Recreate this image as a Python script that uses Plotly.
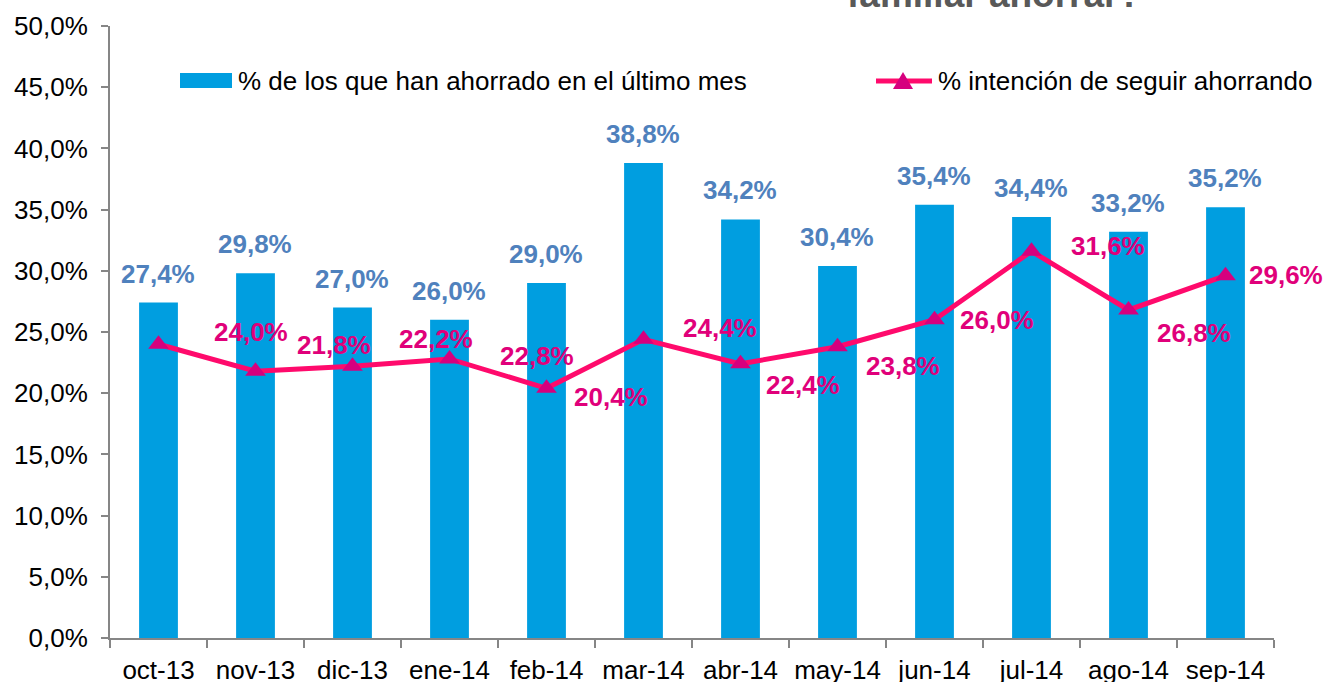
import plotly.graph_objects as go

categories = ["oct-13", "nov-13", "dic-13", "ene-14", "feb-14", "mar-14",
              "abr-14", "may-14", "jun-14", "jul-14", "ago-14", "sep-14"]
ahorrado = [27.4, 29.8, 27.0, 26.0, 29.0, 38.8, 34.2, 30.4, 35.4, 34.4, 33.2, 35.2]
intencion = [24.0, 21.8, 22.2, 22.8, 20.4, 24.4, 22.4, 23.8, 26.0, 31.6, 26.8, 29.6]
y_ticks = [0, 5, 10, 15, 20, 25, 30, 35, 40, 45, 50]

name_bar = "% de los que han ahorrado en el último mes"
name_line = "% intención de seguir ahorrando"
title_text = "familiar ahorrar?"

# label offsets in pixels for the line labels (dx, dy)
line_dx = [92, 78, 83, 87, 64, 76, 62, 65, 62, 76, 65, 60]
line_dy = [12, 26, 27, 3, -9, 11, -21, -19, 0, 5, -23, 1]

BAR_BLUE = "#009EE0"
LABEL_BLUE = "#4F81BD"
LINE_PINK = "#FF0A6C"
MARK_PINK = "#D6007E"
TXT_PINK = "#E0007A"
AXIS_GRAY = "#868686"
FONT = "Liberation Sans, Arial, Helvetica, sans-serif"
FS = 26

W, H = 1327, 682
L, R, T, B = 110, 53, 26, 44
PW, PH = W - L - R, H - T - B

def px(x):
    return (x - L) / PW

def py(y):
    return (H - B - y) / PH

def fmt(v):
    return f"{v:.1f}".replace(".", ",") + "%"

fig = go.Figure()
fig.add_trace(go.Bar(
    x=categories, y=ahorrado, name=name_bar,
    marker=dict(color=BAR_BLUE, line=dict(width=0)),
    width=0.4, showlegend=False,
))
fig.add_trace(go.Scatter(
    x=categories, y=intencion, name=name_line, mode="lines+markers",
    line=dict(color=LINE_PINK, width=5),
    marker=dict(symbol="triangle-up", size=18, color=MARK_PINK),
    showlegend=False,
))

annotations = []
for c, v in zip(categories, ahorrado):
    annotations.append(dict(
        x=c, y=v, xref="x", yref="y", text=fmt(v), showarrow=False,
        yanchor="middle", xanchor="center", yshift=29, xshift=-1,
        font=dict(family=FONT, size=FS, color=LABEL_BLUE, weight="bold"),
    ))
for c, v, dx, dy in zip(categories, intencion, line_dx, line_dy):
    annotations.append(dict(
        x=c, y=v, xref="x", yref="y", text=fmt(v), showarrow=False,
        yanchor="middle", xanchor="center", xshift=dx, yshift=dy,
        font=dict(family=FONT, size=FS, color=TXT_PINK, weight="bold"),
    ))
# title (cut at top edge as in the original)
annotations.append(dict(
    x=px(994), y=py(17), xref="paper", yref="paper", text=title_text,
    showarrow=False, xanchor="center", yanchor="bottom",
    font=dict(family=FONT, size=37, color="#595959", weight="bold"),
))
# manual legend texts
annotations.append(dict(
    x=px(236), y=py(81), xref="paper", yref="paper", text=name_bar,
    showarrow=False, xanchor="left", yanchor="middle",
    font=dict(family=FONT, size=FS, color="black"),
))
annotations.append(dict(
    x=px(936), y=py(81), xref="paper", yref="paper", text=name_line,
    showarrow=False, xanchor="left", yanchor="middle",
    font=dict(family=FONT, size=FS, color="black"),
))

shapes = [
    dict(type="rect", xref="paper", yref="paper",
         x0=px(180), x1=px(232), y0=py(88), y1=py(73),
         fillcolor=BAR_BLUE, line=dict(width=0)),
    dict(type="line", xref="paper", yref="paper",
         x0=px(876), x1=px(932), y0=py(81), y1=py(81),
         line=dict(color=LINE_PINK, width=5)),
    dict(type="path", xref="paper", yref="paper",
         path=f"M {px(893)},{py(89)} L {px(913)},{py(89)} L {px(903)},{py(72)} Z",
         fillcolor=MARK_PINK, line=dict(width=0)),
]

fig.update_layout(
    width=W, height=H,
    margin=dict(l=L, r=R, t=T, b=B, autoexpand=False),
    paper_bgcolor="white", plot_bgcolor="white",
    font=dict(family=FONT, size=FS, color="black"),
    showlegend=False,
    annotations=annotations,
    shapes=shapes,
)
fig.update_xaxes(
    type="category", showline=True, linecolor=AXIS_GRAY, linewidth=2,
    ticks="outside", tickson="boundaries", ticklen=8, tickcolor=AXIS_GRAY,
    tickwidth=2, showgrid=False, tickfont=dict(family=FONT, size=FS, color="black"),
    range=[-0.5, 11.5], automargin=False, ticklabelstandoff=8,
)
fig.update_yaxes(
    range=[0, 50], tickmode="array", tickvals=y_ticks,
    ticktext=[fmt(v) for v in y_ticks],
    showline=True, linecolor=AXIS_GRAY, linewidth=2, ticks="outside",
    ticklen=7, tickcolor=AXIS_GRAY, tickwidth=2, showgrid=False, zeroline=False,
    tickfont=dict(family=FONT, size=FS, color="black"), ticklabelstandoff=8,
    automargin=False,
)

fig.write_html("out.html", config={"displayModeBar": False},
               post_script="document.body.style.margin='0';")
